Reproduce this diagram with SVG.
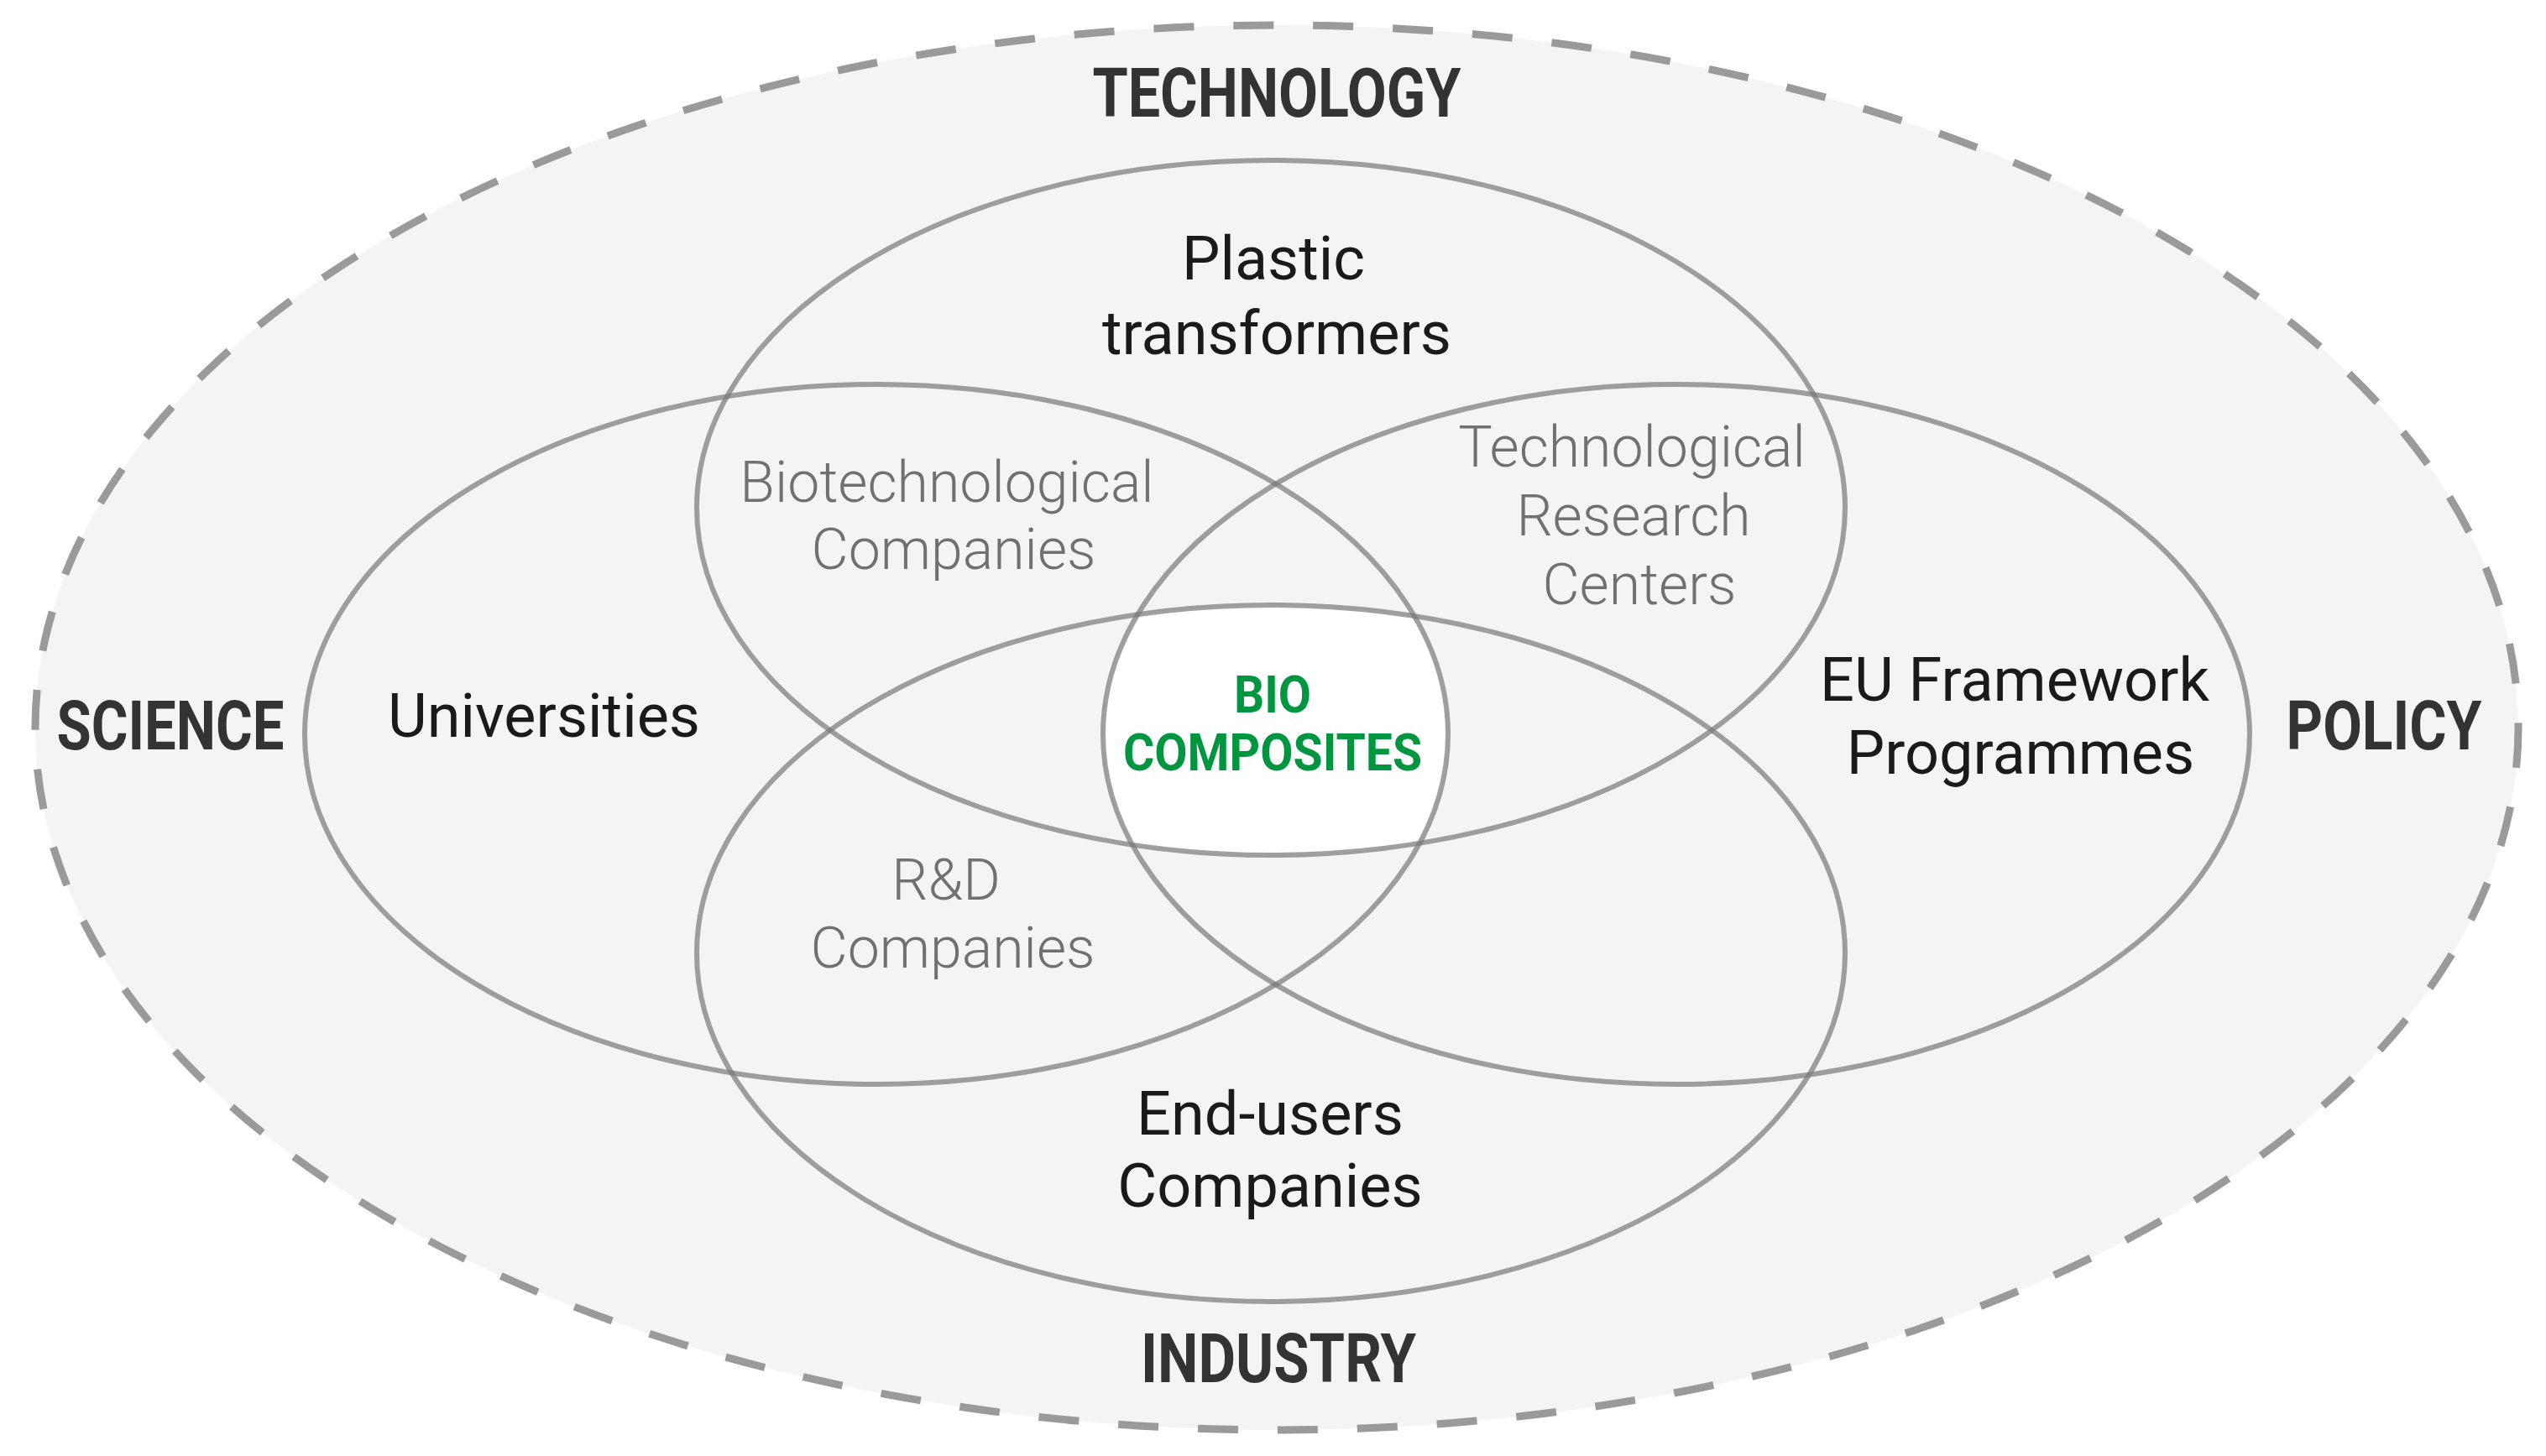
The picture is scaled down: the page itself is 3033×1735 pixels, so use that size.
<svg xmlns="http://www.w3.org/2000/svg" width="3033" height="1735" viewBox="0 0 3033 1735">
<style>
.ring{fill:none;stroke:#777;stroke-opacity:0.7;stroke-width:6}
.outer{fill:#f4f4f4;stroke:#9a9a9a;stroke-width:9;stroke-dasharray:48 47}
.dom{font-family:Roboto,"Liberation Sans",sans-serif;font-weight:700;font-size:82px;fill:#333;text-anchor:middle}
.lab{font-family:Roboto,"Liberation Sans",sans-serif;font-weight:400;font-size:72px;fill:#1a1a1a;text-anchor:middle}
.sub{font-family:Roboto,"Liberation Sans",sans-serif;font-weight:300;font-size:68px;fill:#707070;text-anchor:middle}
.core{font-family:Roboto,"Liberation Sans",sans-serif;font-weight:700;font-size:61px;fill:#009640;text-anchor:middle}
</style>
<defs>
<clipPath id="cB"><ellipse cx="1514" cy="1136" rx="684" ry="415"/></clipPath>
<clipPath id="cL"><ellipse cx="1044" cy="875" rx="681" ry="417"/></clipPath>
<clipPath id="cR"><ellipse cx="1997" cy="875" rx="683" ry="417"/></clipPath>
</defs>
<rect width="3033" height="1735" fill="#ffffff"/>
<g id="outer">
<ellipse class="outer" cx="1521" cy="867" rx="1479" ry="837"/>
<text class="dom" x="1521" y="139" textLength="439" lengthAdjust="spacingAndGlyphs">TECHNOLOGY</text>
<text class="dom" x="203" y="893" textLength="271" lengthAdjust="spacingAndGlyphs">SCIENCE</text>
<text class="dom" x="2840" y="893" textLength="233" lengthAdjust="spacingAndGlyphs">POLICY</text>
<text class="dom" x="1523" y="1647" textLength="328" lengthAdjust="spacingAndGlyphs">INDUSTRY</text>
</g>
<g id="core-area" clip-path="url(#cB)"><g clip-path="url(#cL)"><g clip-path="url(#cR)">
<ellipse cx="1514" cy="605" rx="684" ry="414" fill="#ffffff"/>
</g></g></g>
<g id="connectors"></g>
<g id="technology">
<ellipse class="ring" cx="1514" cy="605" rx="684" ry="414"/>
<text class="lab" x="1517" y="333">Plastic</text>
<text class="lab" x="1521" y="422">transformers</text>
</g>
<g id="science">
<ellipse class="ring" cx="1044" cy="875" rx="681" ry="417"/>
<text class="lab" x="648" y="878">Universities</text>
</g>
<g id="policy">
<ellipse class="ring" cx="1997" cy="875" rx="683" ry="417"/>
<text class="lab" x="2400" y="835">EU Framework</text>
<text class="lab" x="2407" y="922">Programmes</text>
</g>
<g id="industry">
<ellipse class="ring" cx="1514" cy="1136" rx="684" ry="415"/>
<text class="lab" x="1513" y="1352">End-users</text>
<text class="lab" x="1513" y="1438">Companies</text>
</g>
<g id="biotech">
<text class="sub" x="1128" y="598">Biotechnological</text>
<text class="sub" x="1136" y="678">Companies</text>
</g>
<g id="trc">
<text class="sub" x="1944" y="556">Technological</text>
<text class="sub" x="1946" y="638">Research</text>
<text class="sub" x="1953" y="720">Centers</text>
</g>
<g id="rd">
<text class="sub" x="1127" y="1072">R&amp;D</text>
<text class="sub" x="1135" y="1153">Companies</text>
</g>
<g id="biocomposites">
<text class="core" x="1516" y="849" textLength="92" lengthAdjust="spacingAndGlyphs">BIO</text>
<text class="core" x="1516" y="918" textLength="356" lengthAdjust="spacingAndGlyphs">COMPOSITES</text>
</g>
</svg>
